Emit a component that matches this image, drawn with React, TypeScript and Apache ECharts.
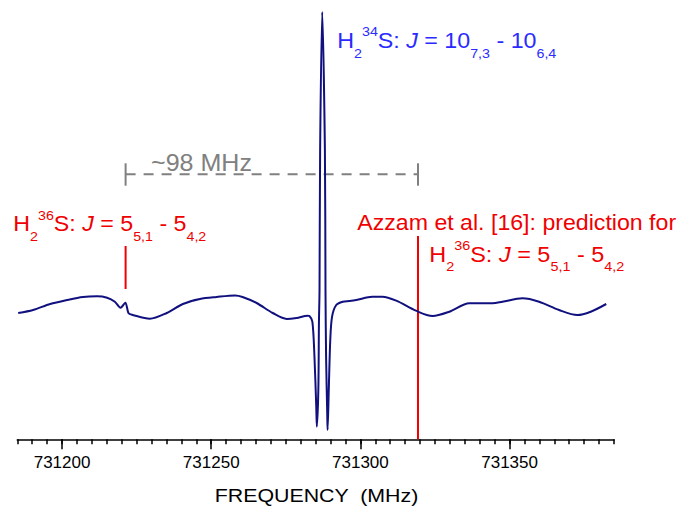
import React, { useEffect, useRef } from "react";
import * as echarts from "echarts";

// Spectrum trace (frequency in MHz, intensity arb. units)
const FREQ = [
  731185.3, 731190.3, 731196.0, 731201.7, 731207.0, 731211.7, 731215.1, 731217.7, 731219.6, 731221.2,
  731222.3, 731223.7, 731229.4, 731235.1, 731240.5, 731246.2, 731251.8, 731258.0, 731260.5, 731265.2,
  731270.6, 731275.3, 731278.6, 731282.3, 731282.9, 731283.9, 731284.6, 731285.2, 731285.4, 731285.9,
  731286.1, 731286.3, 731286.5, 731287.2, 731288.1, 731288.3, 731288.5, 731288.9, 731289.0, 731289.4,
  731289.9, 731290.5, 731291.9, 731294.1, 731296.3, 731298.6, 731304.0, 731307.4, 731312.0, 731318.6,
  731324.2, 731329.8, 731336.5, 731344.3, 731347.6, 731354.3, 731359.9, 731366.6, 731372.7, 731377.2,
  731382.4,
];
const INTENSITY = [
  0.0, 0.03, 0.09, 0.13, 0.16, 0.167, 0.153, 0.113, 0.053, 0.103,
  -0.003, -0.02, -0.057, 0.0, 0.09, 0.14, 0.16, 0.175, 0.16, 0.1,
  0.0, -0.06, -0.05, -0.027, -0.03, -0.087, -0.437, -0.937, -1.137, -0.77,
  -0.1, 0.23, 1.63, 3.01, 1.63, 0.23, -0.437, -1.037, -1.17, -0.77,
  -0.27, -0.037, 0.08, 0.113, 0.12, 0.13, 0.163, 0.163, 0.123, 0.023,
  -0.03, 0.013, 0.097, 0.097, 0.113, 0.147, 0.113, 0.03, -0.02, 0.013,
  0.09,
];

const X_MIN = 731185;
const X_MAX = 731385;
const Y_MIN = -1.263;
const Y_MAX = 3.13;
const MINOR_TICKS = Array.from({ length: 41 }, (_, i) => X_MIN + i * 5);
const MAJOR_TICKS = [731200, 731250, 731300, 731350];

// Markers
const OBSERVED_36S = 731221.3; // observed H2 36S line
const PREDICTED_36S = 731319.3; // Azzam et al. prediction
const MARK_OBS_Y = [0.24, 0.67];
const MARK_PRED_Y = [Y_MIN, 0.77];
const BRACKET_Y = 1.387;
const BRACKET_CAP = [1.273, 1.497];

const FONT = '"Liberation Sans", Arial, sans-serif';
const BIG = 22;
const SMALL = 13.5;

type Tok = [string, "n" | "it" | "sub" | "sup"];

const LABEL_34S: Tok[] = [
  ["H", "n"], ["2", "sub"], ["34", "sup"], ["S: ", "n"], ["J", "it"], [" = 10", "n"],
  ["7,3", "sub"], [" - 10", "n"], ["6,4", "sub"],
];
const LABEL_36S: Tok[] = [
  ["H", "n"], ["2", "sub"], ["36", "sup"], ["S: ", "n"], ["J", "it"], [" = 5", "n"],
  ["5,1", "sub"], [" - 5", "n"], ["4,2", "sub"],
];

let ctx: CanvasRenderingContext2D | null = null;
function measure(text: string, font: string) {
  if (!ctx) ctx = document.createElement("canvas").getContext("2d");
  ctx!.font = font;
  return ctx!.measureText(text).width;
}

function richLabel(tokens: Tok[], x0: number, baseline: number, color: string, targetWidth: number) {
  let x = 0;
  const els: any[] = [];
  for (const [txt, kind] of tokens) {
    const size = kind === "sub" || kind === "sup" ? SMALL : BIG;
    const italic = kind === "it";
    const off = kind === "sub" ? 9.5 : kind === "sup" ? -12 : 0;
    const font = `${italic ? "italic " : ""}${size}px ${FONT}`;
    els.push({
      type: "text",
      x,
      y: off - 0.3465 * size,
      silent: true,
      style: {
        text: txt,
        fill: color,
        font,
        textAlign: "left",
        textVerticalAlign: "middle",
        verticalAlign: "middle",
      },
    });
    x += measure(txt, font);
  }
  return { type: "group", x: x0, y: baseline, scaleX: targetWidth / x, silent: true, children: els };
}

function plainText(
  text: string, x: number, baseline: number, size: number, color: string, targetWidth: number, align = "left"
) {
  const font = `${size}px ${FONT}`;
  const w = measure(text, font);
  return {
    type: "text",
    x,
    y: baseline - 0.3465 * size,
    scaleX: targetWidth / w,
    silent: true,
    style: {
      text,
      fill: color,
      font,
      textAlign: align,
      textVerticalAlign: "middle",
      verticalAlign: "middle",
    },
  };
}

export default function App() {
  const ref = useRef<HTMLDivElement>(null);
  useEffect(() => {
    if (!ref.current) return;
    const chart = echarts.init(ref.current, null, { renderer: "svg" });
    const RED = "#f00000";
    const BLUE = "#2b2bff";
    const GREY = "#808080";
    const data = FREQ.map((f, i) => [f, INTENSITY[i]]);
    const vline = (x: number, ys: number[], color: string, width: number) => ({
      type: "line",
      xAxisIndex: 0,
      yAxisIndex: 0,
      data: [[x, ys[0]], [x, ys[1]]],
      showSymbol: false,
      silent: true,
      lineStyle: { color, width },
      z: 3,
    });
    chart.setOption({
      animation: false,
      backgroundColor: "#ffffff",
      grid: { left: 17.3, right: 70, top: 0, bottom: 66.7, containLabel: false, outerBoundsMode: "none" },
      xAxis: [
        {
          type: "value",
          min: X_MIN,
          max: X_MAX,
          position: "bottom",
          axisLine: { show: true, onZero: false, lineStyle: { color: "#000", width: 1.6 } },
          axisTick: { show: true, customValues: MINOR_TICKS, length: 5, lineStyle: { color: "#000", width: 1.5 } },
          axisLabel: {
            show: true,
            customValues: MAJOR_TICKS,
            margin: 14.5,
            color: "#000",
            fontSize: 17,
            fontFamily: FONT,
            formatter: (v: number) => String(v),
          },
          splitLine: { show: false },
        },
        {
          type: "value",
          min: X_MIN,
          max: X_MAX,
          position: "bottom",
          axisLine: { show: false, onZero: false },
          axisTick: { show: true, customValues: MAJOR_TICKS, length: 10, lineStyle: { color: "#000", width: 1.5 } },
          axisLabel: { show: false, customValues: MAJOR_TICKS },
          splitLine: { show: false },
        },
      ],
      yAxis: { type: "value", min: Y_MIN, max: Y_MAX, show: false, splitLine: { show: false } },
      series: [
        {
          type: "line",
          data,
          showSymbol: false,
          smooth: 0.3,
          silent: true,
          lineStyle: { color: "#10107f", width: 2 },
          z: 4,
        },
        vline(OBSERVED_36S, MARK_OBS_Y, RED, 2),
        vline(PREDICTED_36S, MARK_PRED_Y, RED, 2),
        {
          type: "line",
          data: [[OBSERVED_36S, BRACKET_Y], [PREDICTED_36S, BRACKET_Y]],
          showSymbol: false,
          silent: true,
          lineStyle: { color: GREY, width: 2, type: [10, 8] },
          z: 2,
        },
        vline(OBSERVED_36S, BRACKET_CAP, GREY, 2),
        vline(PREDICTED_36S, BRACKET_CAP, GREY, 2),
      ],
      graphic: [
        richLabel(LABEL_34S, 337.3, 48.3, BLUE, 219),
        richLabel(LABEL_36S, 13.3, 231.7, RED, 193),
        plainText("Azzam et al. [16]: prediction for", 357.3, 230, BIG, RED, 319),
        richLabel(LABEL_36S, 429.3, 261.7, RED, 195),
        plainText("~98 MHz", 151, 170.7, 23, GREY, 101),
        plainText("FREQUENCY  (MHz)", 316.5, 501.7, 19, "#000", 204, "center"),
      ],
    });
    return () => chart.dispose();
  }, []);
  return (
    <div
      ref={ref}
      style={{ position: "fixed", left: 0, top: 0, width: 684, height: 506, background: "#fff" }}
    />
  );
}
